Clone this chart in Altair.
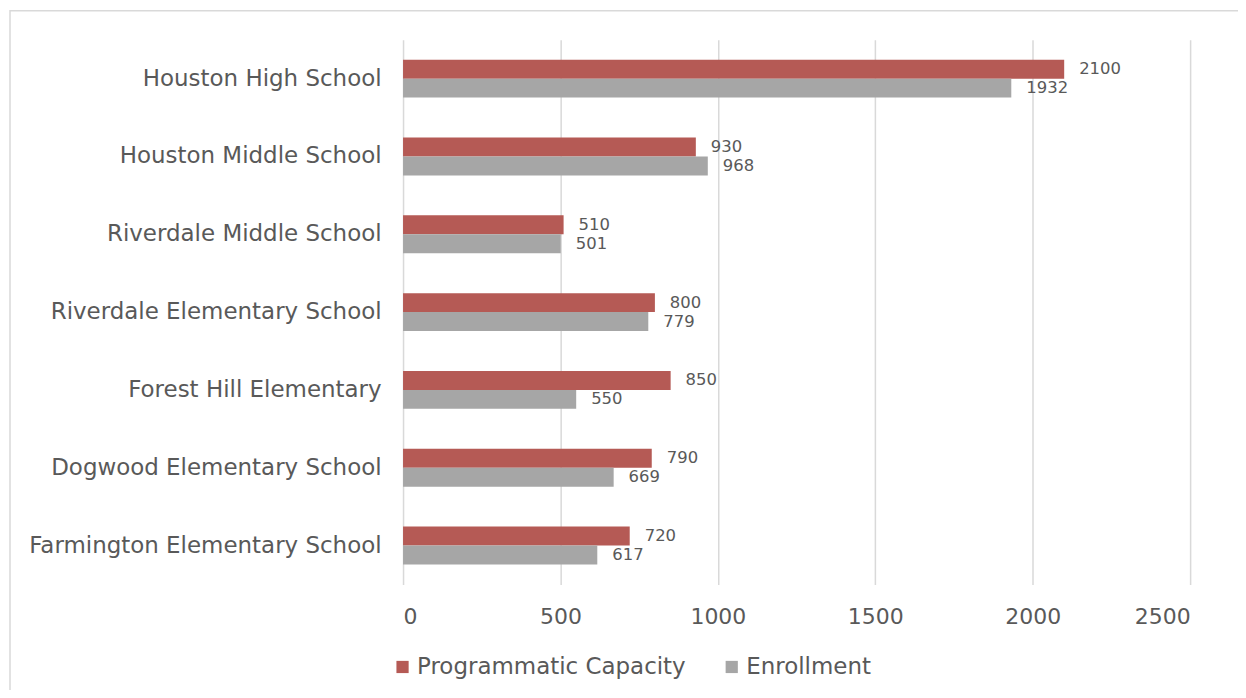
import altair as alt
import pandas as pd

schools = [
    "Houston High School",
    "Houston Middle School",
    "Riverdale Middle School",
    "Riverdale Elementary School",
    "Forest Hill Elementary",
    "Dogwood Elementary School",
    "Farmington Elementary School",
]
capacity = [2100, 930, 510, 800, 850, 790, 720]
enrollment = [1932, 968, 501, 779, 550, 669, 617]
series = ["Programmatic Capacity", "Enrollment"]
colors = ["#B55A55", "#A6A6A6"]

rows = []
for s, c, e in zip(schools, capacity, enrollment):
    rows.append({"school": s, "series": series[0], "value": c})
    rows.append({"school": s, "series": series[1], "value": e})
df = pd.DataFrame(rows)

FONT = "DejaVu Sans"
TXT = "#595959"

y_enc = alt.Y("school:N", sort=schools, title=None,
              scale=alt.Scale(paddingInner=0.513, paddingOuter=0.2565),
              axis=alt.Axis(labelFontSize=23, labelColor=TXT, labelFont=FONT,
                            ticks=False, domain=False, labelPadding=22, grid=False,
                            labelLimit=500))
x_enc = alt.X("value:Q", title=None,
              scale=alt.Scale(domain=[0, 2500], nice=False),
              axis=alt.Axis(values=[0, 500, 1000, 1500, 2000, 2500], format="d",
                            labelFontSize=22,
                            labelColor=TXT, labelFont=FONT, ticks=False, domain=False,
                            grid=True, gridColor="#D9D9D9", gridWidth=1.5,
                            labelPadding=22))
yoff = alt.YOffset("series:N", sort=series)

base = alt.Chart(df)

bars = base.mark_bar().encode(
    x=x_enc, y=y_enc, yOffset=yoff,
    color=alt.Color("series:N", sort=series,
                    scale=alt.Scale(domain=series, range=colors),
                    legend=alt.Legend(title=None, orient="none", legendX=-12, legendY=617,
                                      direction="horizontal", symbolType="square",
                                      symbolSize=150, labelFontSize=23, labelColor=TXT,
                                      labelFont=FONT, labelOffset=3, columnPadding=34,
                                      symbolStrokeWidth=0, labelLimit=500)),
)

labels = base.mark_text(align="left", baseline="middle", dx=15, fontSize=16.5,
                        color=TXT, font=FONT).encode(
    x="value:Q", y=alt.Y("school:N", sort=schools), yOffset=yoff,
    text="value:Q",
)

border = alt.Chart(pd.DataFrame({"a": [0]})).mark_rect(
    fill=None, stroke="#D9D9D9", strokeWidth=1.5
).encode(x=alt.value(-394), x2=alt.value(900), y=alt.value(-29), y2=alt.value(700))

chart = alt.layer(border, bars, labels).properties(
    width=789, height=546,
    autosize=alt.AutoSizeParams(type="none"),
    padding={"left": 396, "top": 31, "right": 48, "bottom": 105},
).configure_view(stroke=None)

chart.save("out.html", embed_options={"renderer": "svg", "actions": False})
